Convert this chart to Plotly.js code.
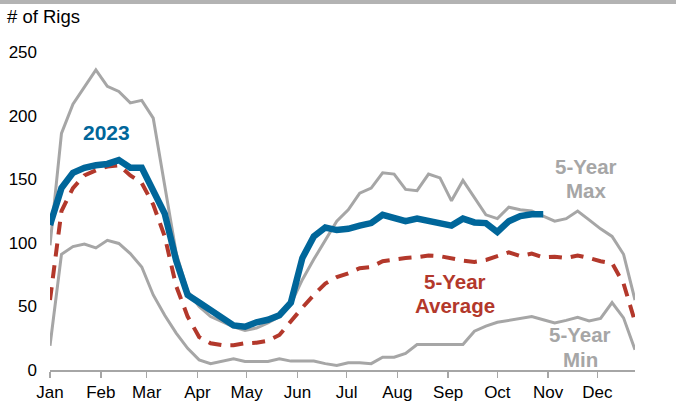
<!DOCTYPE html>
<html>
<head>
<meta charset="utf-8">
<script src="https://cdn.plot.ly/plotly-3.0.1.min.js"></script>
<style>
html,body{margin:0;padding:0;background:#fff;}
#chart{width:676px;height:402px;}
</style>
</head>
<body>
<div id="chart"></div>
<script>
// Weekly dates (x categories)
var weeks = ['2023-01-01','2023-01-08','2023-01-15','2023-01-22','2023-01-29',
  '2023-02-05','2023-02-12','2023-02-19','2023-02-26',
  '2023-03-05','2023-03-12','2023-03-19','2023-03-26',
  '2023-04-02','2023-04-09','2023-04-16','2023-04-23','2023-04-30',
  '2023-05-07','2023-05-14','2023-05-21','2023-05-28',
  '2023-06-04','2023-06-11','2023-06-18','2023-06-25',
  '2023-07-02','2023-07-09','2023-07-16','2023-07-23','2023-07-30',
  '2023-08-06','2023-08-13','2023-08-20','2023-08-27',
  '2023-09-03','2023-09-10','2023-09-17','2023-09-24',
  '2023-10-01','2023-10-08','2023-10-15','2023-10-22','2023-10-29',
  '2023-11-05','2023-11-12','2023-11-19','2023-11-26',
  '2023-12-03','2023-12-10','2023-12-17','2023-12-24'];

var max5 = [98,186,209,222,236,223,219,210,212,198,146,92,62,50,42,38,34,31,33,37,42,52,71,87,102,117,126,139,143,155,154,142,141,154,151,133,149,135,122,119,128,126,125,121,117,119,125,118,111,105,91,55];
var min5 = [19,91,97,99,96,102,99.5,91.5,81,59,43,29,17,8,5,7,8.8,6.7,6.7,6.7,8.8,7,7,7,5,3.5,5.7,5.7,5,10,10,13,20,20,20,20,20,30.5,34.5,37.5,39,41,42,39.5,37,39,41.5,38.5,40.5,53,41,16];
var avg5 = [55,125,143,153,157,160,161,153,147,130,105,66,42,26,21,19.5,19.5,21,21.5,23,27.5,38.5,49,59,68,73,76,80,81,85.5,87,88,88.7,90,89.5,87.5,86,85,86.5,89.5,92.5,89.5,91.5,88.5,89,88,90,88,85.5,84,68,38];
var y2023 = [114,143,155,159,161,162,165,159,159,141,123,86,59,53,47,42,35,34,37.5,39.5,43,53,88,105,112,110,111,113.5,115.5,122,119,117,119,117.5,115.5,113.5,119,116,115.5,108.5,117,121,122.5,122.5];

var yTicks = [0,50,100,150,200,250];

var GRAY = '#A6A6A6', BLUE = '#00669A', RED = '#B3382B';
var FONT = 'Liberation Sans, Arial, sans-serif';

var traces = [
  {x: weeks, y: min5, mode: 'lines', line: {color: GRAY, width: 3}, hoverinfo: 'skip'},
  {x: weeks, y: max5, mode: 'lines', line: {color: GRAY, width: 3}, hoverinfo: 'skip'},
  {x: weeks, y: avg5, mode: 'lines', line: {color: RED, width: 4, dash: '13px,9px'}, hoverinfo: 'skip'},
  {x: weeks.slice(0, y2023.length), y: y2023, mode: 'lines', line: {color: BLUE, width: 6.5}, hoverinfo: 'skip'}
];

// plot area in pixels: left 50, right 635, top 52, bottom 370
var L = 50, R = 635, T = 52, B = 370;
function px(x){ return (x - L) / (R - L); }
function py(y){ return (B - y) / (B - T); }
function lab(text, x, y, color, size){
  return {text: text, xref: 'paper', yref: 'paper', x: px(x), y: py(y),
    xanchor: 'center', yanchor: 'middle', showarrow: false,
    font: {family: FONT, size: size || 20.5, color: color, weight: 'bold'}};
}

var layout = {
  width: 676, height: 402,
  margin: {l: L, r: 676 - R, t: T, b: 402 - B, pad: 0},
  paper_bgcolor: '#fff', plot_bgcolor: '#fff',
  showlegend: false,
  font: {family: FONT, size: 17, color: '#000'},
  xaxis: {
    type: 'date', range: ['2023-01-01', '2023-12-24'],
    tickmode: 'linear', tick0: '2023-01-01', dtick: 'M1', tickformat: '%b',
    ticks: 'outside', ticklen: 6, tickwidth: 1.5, tickcolor: GRAY,
    showline: true, linecolor: GRAY, linewidth: 1.5,
    showgrid: false, zeroline: false,
    tickfont: {family: FONT, size: 17, color: '#000'}
  },
  yaxis: {
    range: [0, 250], tickvals: yTicks, ticktext: yTicks.map(String),
    ticks: '', showline: false, showgrid: false, zeroline: false,
    ticklabelstandoff: 12,
    tickfont: {family: FONT, size: 17, color: '#000'}
  },
  shapes: [
    {type: 'rect', xref: 'paper', yref: 'paper', x0: px(-10), x1: px(690), y0: py(4), y1: py(-10),
     fillcolor: '#B3B3B3', line: {width: 0}}
  ],
  annotations: [
    {text: '# of Rigs', xref: 'paper', yref: 'paper', x: px(5), y: py(17), xanchor: 'left', yanchor: 'middle',
     showarrow: false, font: {family: FONT, size: 18.5, color: '#000'}},
    lab('2023', 106.7, 132.3, BLUE, 21),
    lab('5-Year', 586, 166.7, GRAY), lab('Max', 586, 190, GRAY),
    lab('5-Year', 455, 281.7, RED), lab('Average', 455, 305.7, RED),
    lab('5-Year', 580, 334.3, GRAY), lab('Min', 580, 359, GRAY)
  ]
};

Plotly.newPlot('chart', traces, layout, {staticPlot: true, displayModeBar: false});
</script>
</body>
</html>
